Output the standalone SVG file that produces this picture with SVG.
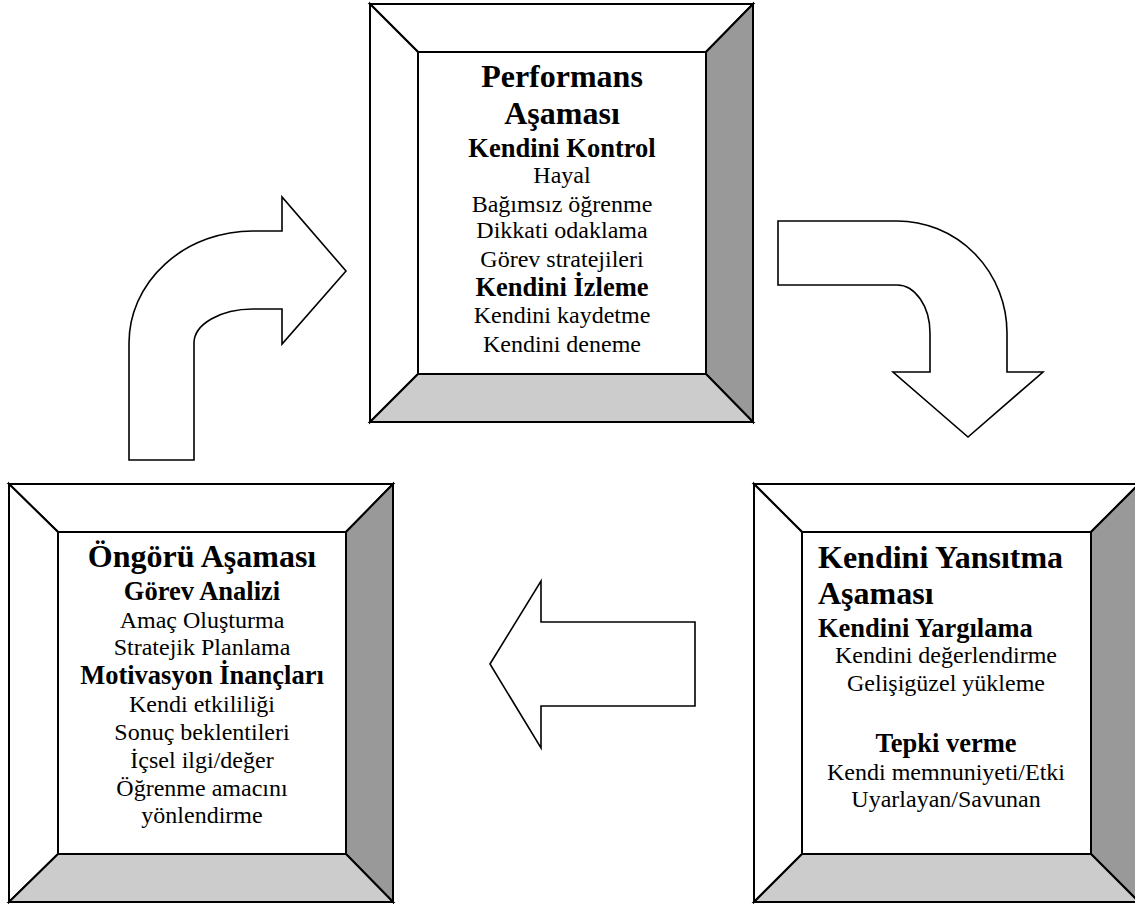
<svg xmlns="http://www.w3.org/2000/svg" width="1135" height="904" viewBox="0 0 1135 904">
  <style>
    .bevel { stroke: #000; stroke-width: 2; stroke-linejoin: miter; }
    .light { fill: #ffffff; }
    .side { fill: #999999; }
    .base { fill: #cccccc; }
    .arrow { fill: #ffffff; stroke: #000; stroke-width: 1.6; stroke-linejoin: miter; }
    text { font-family: "Liberation Serif", "Times New Roman", serif; fill: #000; }
    .title { font-size: 32px; font-weight: bold; }
    .head { font-size: 26.5px; font-weight: bold; }
    .item { font-size: 24px; }
    .mid { text-anchor: middle; }
  </style>
  <rect width="1135" height="904" fill="#ffffff"/>

  <!-- Connectors: block arrows between the phases -->
  <g id="connectors">
    <path class="arrow" d="M129,460 L129,343 A124,112 0 0 1 253,231 L282,231 L282,197 L346,271 L282,344 L282,309 L253,309 A59,34 0 0 0 194,343 L194,460 Z"/>
    <path class="arrow" d="M778,221 L897,221 A110,112 0 0 1 1007,333 L1007,372 L1043,372 L968,437 L893,372 L930,372 L930,333 A33,48 0 0 0 897,285 L778,285 Z"/>
    <path class="arrow" d="M490,664 L541,581 L541,622 L695,622 L695,706 L541,706 L541,748 Z"/>
  </g>

  <!-- Performance phase (top) -->
  <g id="performans">
    <polygon class="bevel light" points="370,4 753,4 706,52 418,52"/>
    <polygon class="bevel light" points="370,4 418,52 418,374 370,422"/>
    <polygon class="bevel side" points="753,4 753,422 706,374 706,52"/>
    <polygon class="bevel base" points="370,422 418,374 706,374 753,422"/>
    <rect class="bevel light" x="418" y="52" width="288" height="322"/>
    <text class="title mid" x="562" y="87">Performans</text>
    <text class="title mid" x="562" y="124">Aşaması</text>
    <text class="head mid" x="562" y="157">Kendini Kontrol</text>
    <text class="item mid" x="562" y="183">Hayal</text>
    <text class="item mid" x="562" y="212">Bağımsız öğrenme</text>
    <text class="item mid" x="562" y="238">Dikkati odaklama</text>
    <text class="item mid" x="562" y="267">Görev stratejileri</text>
    <text class="head mid" x="562" y="296">Kendini İzleme</text>
    <text class="item mid" x="562" y="323">Kendini kaydetme</text>
    <text class="item mid" x="562" y="352">Kendini deneme</text>
  </g>

  <!-- Forethought phase (bottom left) -->
  <g id="ongoru">
    <polygon class="bevel light" points="9,484 393,484 346,532 58,532"/>
    <polygon class="bevel light" points="9,484 58,532 58,854 9,902"/>
    <polygon class="bevel side" points="393,484 393,902 346,854 346,532"/>
    <polygon class="bevel base" points="9,902 58,854 346,854 393,902"/>
    <rect class="bevel light" x="58" y="532" width="288" height="322"/>
    <text class="title mid" x="202" y="567">Öngörü Aşaması</text>
    <text class="head mid" x="202" y="600">Görev Analizi</text>
    <text class="item mid" x="202" y="628">Amaç Oluşturma</text>
    <text class="item mid" x="202" y="655">Stratejik Planlama</text>
    <text class="head mid" x="202" y="684">Motivasyon İnançları</text>
    <text class="item mid" x="202" y="712">Kendi etkililiği</text>
    <text class="item mid" x="202" y="740">Sonuç beklentileri</text>
    <text class="item mid" x="202" y="768">İçsel ilgi/değer</text>
    <text class="item mid" x="202" y="796">Öğrenme amacını</text>
    <text class="item mid" x="202" y="823">yönlendirme</text>
  </g>

  <!-- Self-reflection phase (bottom right) -->
  <g id="yansitma">
    <polygon class="bevel light" points="754,484 1139,484 1091,532 802,532"/>
    <polygon class="bevel light" points="754,484 802,532 802,854 754,902"/>
    <polygon class="bevel side" points="1139,484 1139,902 1091,854 1091,532"/>
    <polygon class="bevel base" points="754,902 802,854 1091,854 1139,902"/>
    <rect class="bevel light" x="802" y="532" width="289" height="322"/>
    <text class="title" x="818" y="568">Kendini Yansıtma</text>
    <text class="title" x="818" y="604">Aşaması</text>
    <text class="head" x="818" y="637">Kendini Yargılama</text>
    <text class="item mid" x="946" y="663">Kendini değerlendirme</text>
    <text class="item mid" x="946" y="691">Gelişigüzel yükleme</text>
    <text class="head mid" x="946" y="752">Tepki verme</text>
    <text class="item mid" x="946" y="780">Kendi memnuniyeti/Etki</text>
    <text class="item mid" x="946" y="807">Uyarlayan/Savunan</text>
  </g>
</svg>
